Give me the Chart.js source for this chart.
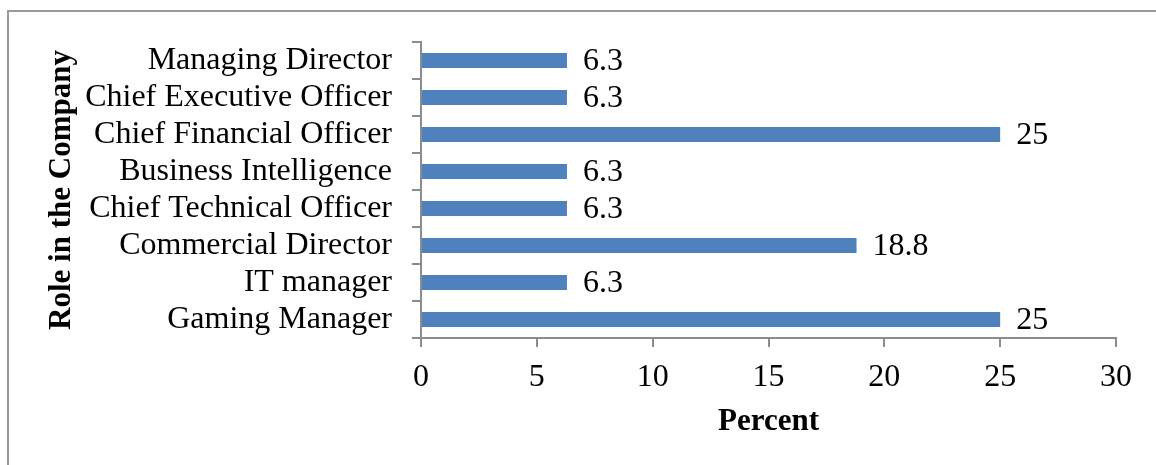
<!DOCTYPE html>
<html><head><meta charset="utf-8">
<script src="https://cdn.jsdelivr.net/npm/chart.js@4"></script>
<style>
html,body{margin:0;padding:0;background:#fff;overflow:hidden}
#wrap{position:relative;width:1156px;height:465px}
#frame{position:absolute;left:7px;top:10px;width:1200px;height:500px;border:2px solid #9a9a9a;box-sizing:border-box}
canvas{position:absolute;left:0;top:0}
</style></head><body>
<div id="wrap"><div id="frame"></div><canvas id="c" width="1156" height="465"></canvas></div>
<script>
const categories = ["Managing Director","Chief Executive Officer","Chief Financial Officer","Business Intelligence","Chief Technical Officer","Commercial Director","IT manager","Gaming Manager"];
const values = [6.3, 6.3, 25, 6.3, 6.3, 18.8, 6.3, 25];
const xTickValues = [0, 5, 10, 15, 20, 25, 30];
const xTitle = "Percent";
const yTitle = "Role in the Company";

const FONT = "'Liberation Serif','Times New Roman',serif";
const AXIS = '#8c8c8c';

const valueLabels = {
  id: 'valueLabels',
  afterDatasetsDraw(chart) {
    const ctx = chart.ctx;
    const meta = chart.getDatasetMeta(0);
    ctx.save();
    ctx.font = "32px " + FONT;
    ctx.fillStyle = '#000';
    ctx.textAlign = 'left';
    ctx.textBaseline = 'middle';
    meta.data.forEach((bar, i) => {
      ctx.fillText(String(values[i]), bar.x + 16, bar.y + 1);
    });
    ctx.restore();
  }
};

new Chart(document.getElementById('c'), {
  type: 'bar',
  data: {
    labels: categories,
    datasets: [{
      data: values,
      backgroundColor: '#4F81BD',
      borderWidth: 0,
      categoryPercentage: 1,
      barPercentage: 0.4
    }]
  },
  plugins: [valueLabels],
  options: {
    indexAxis: 'y',
    responsive: false,
    animation: false,
    devicePixelRatio: 1,
    layout: { padding: { top: 42, right: 40, bottom: 0, left: 0 } },
    plugins: { legend: { display: false }, tooltip: { enabled: false } },
    scales: {
      x: {
        min: 0, max: 30,
        afterBuildTicks(scale) { scale.ticks = xTickValues.map(v => ({ value: v })); },
        afterFit(scale) { scale.height = 127; },
        grid: { drawOnChartArea: false, drawTicks: true, tickLength: 9, color: AXIS, lineWidth: 2 },
        border: { display: true, color: AXIS, width: 2 },
        ticks: { color: '#000', font: { family: FONT, size: 32 }, padding: 11, maxRotation: 0 },
        title: { display: true, text: xTitle, color: '#000', font: { family: FONT, size: 31, weight: 'bold' }, padding: { top: 0, bottom: 24 } }
      },
      y: {
        afterFit(scale) { scale.width = 421; },
        grid: { drawOnChartArea: false, drawTicks: true, tickLength: 9, color: AXIS, lineWidth: 2, offset: true },
        border: { display: true, color: AXIS, width: 2 },
        ticks: { color: '#000', font: { family: FONT, size: 32 }, padding: 20, autoSkip: false },
        title: { display: true, text: yTitle, color: '#000', font: { family: FONT, size: 31, weight: 'bold' }, padding: { top: 43, bottom: 0 } }
      }
    }
  }
});
</script>
</body></html>
